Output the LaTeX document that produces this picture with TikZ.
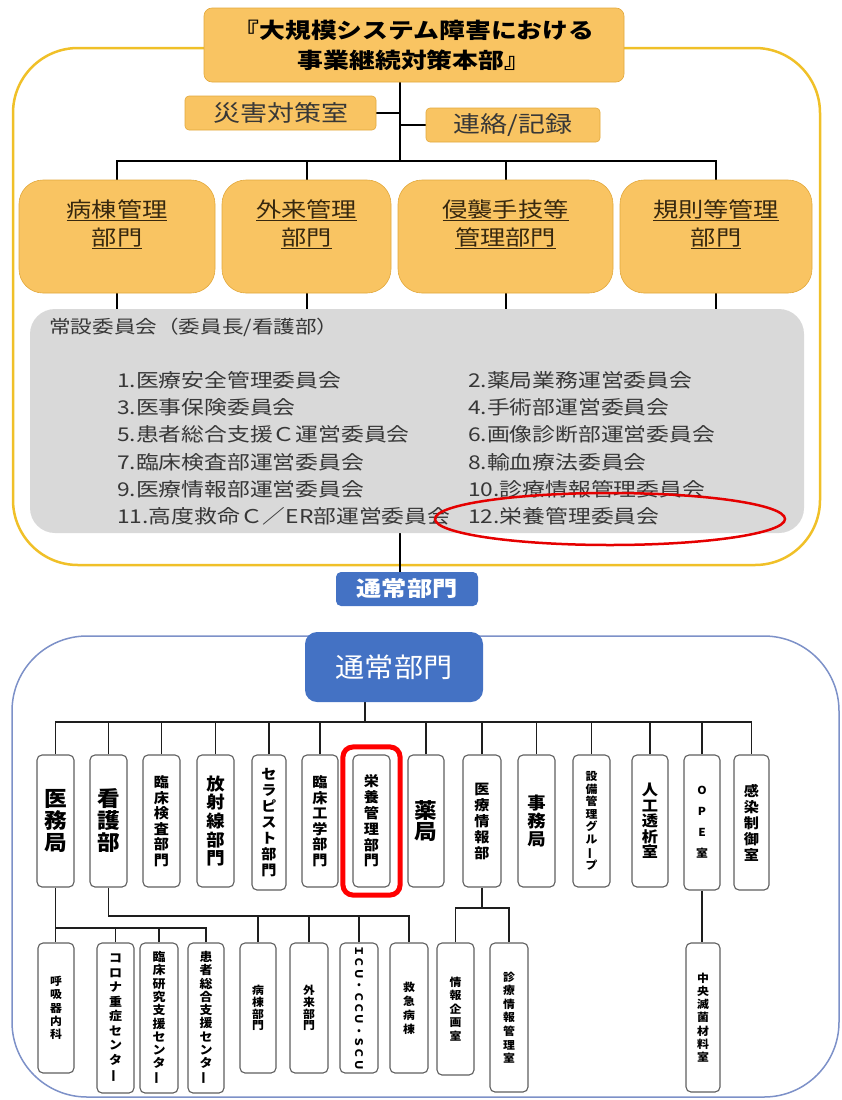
\documentclass[tikz,border=0pt]{standalone}
\usepackage{fontspec}
\usepackage{graphicx}
\setmainfont{Noto Sans CJK JP}
\newfontfamily\jpw{Noto Sans CJK JP}[FakeStretch=1.2]
\newfontfamily\jpl{Noto Sans CJK JP}[FakeStretch=1.08]
\usetikzlibrary{fit,backgrounds}
\definecolor{orfill}{RGB}{249,196,98}
\definecolor{ordraw}{RGB}{226,168,60}
\definecolor{yline}{RGB}{240,192,40}
\definecolor{bline}{RGB}{125,145,200}
\definecolor{offblue}{RGB}{68,114,196}
\definecolor{greyfill}{RGB}{217,217,217}
\definecolor{boxgray}{RGB}{95,95,95}
\definecolor{txtgray}{RGB}{55,55,55}
\definecolor{deptxt}{RGB}{55,40,15}
\definecolor{lline}{RGB}{30,30,30}
\newcommand{\fsz}[2]{\fontsize{#1}{#2}\selectfont}
\newcommand{\vbar}{\rotatebox[origin=c]{90}{ー}}
\newcommand{\vbx}[7]{\node[vbox, font=#6, minimum width={(#3-#2)*1pt}, minimum height={(#5-#4)*1pt}] (#1) at ({(#2+#3)/2},{(#4+#5)/2}) {#7};}
\begin{document}
\begin{tikzpicture}[x=1pt,y=-1pt,
  orbox/.style={fill=orfill, draw=ordraw, line width=0.6pt, inner sep=0pt, align=center},
  dept/.style={fill=orfill, draw=ordraw, line width=0.6pt, rounded corners=24pt},
  depttxt/.style={font=\jpw\fsz{21}{28}, align=center, text=deptxt, inner sep=0pt},
  cmt/.style={anchor=west, font=\jpw\fsz{19}{20}, text=txtgray, inner sep=0pt},
  bluebox/.style={fill=offblue, draw=none, text=white, inner sep=0pt},
  vbox/.style={draw=boxgray, line width=1.1pt, rounded corners=5pt, fill=white, inner sep=0pt, align=center, text=black},
  conn/.style={line width=2pt, draw=black},
  lconn/.style={line width=1.7pt, draw=lline}]
\useasboundingbox (0,0) rectangle (841,1100);

% ---------- upper section ----------
\node[orbox, minimum width=420pt, minimum height=74pt, rounded corners=8pt, font=\jpw\bfseries\fsz{21.5}{30}] (hdr) at (414,45) {『大規模システム障害における\\事業継続対策本部』};
\node[orbox, minimum width=191pt, minimum height=34pt, rounded corners=4pt, font=\jpw\fsz{22.5}{24}, text=txtgray] (saigai) at (280.5,113) {災害対策室};
\node[orbox, minimum width=174pt, minimum height=34pt, rounded corners=4pt, font=\jpw\fsz{22.5}{24}, text=txtgray] (renraku) at (513,125) {連絡/記録};

\node[dept, minimum width=196pt, minimum height=113pt] (b1) at (117,236.5) {};
\node[dept, minimum width=169pt, minimum height=113pt] (b2) at (306.5,236.5) {};
\node[dept, minimum width=215pt, minimum height=113pt] (b3) at (505.5,236.5) {};
\node[dept, minimum width=192pt, minimum height=113pt] (b4) at (716,236.5) {};
\node[depttxt] (b1t) at (117,224) {\underline{病棟管理}\\\underline{部門}};
\node[depttxt] (b2t) at (306.5,224) {\underline{外来管理}\\\underline{部門}};
\node[depttxt] (b3t) at (505.5,224) {\underline{侵襲手技等}\\\underline{管理部門}};
\node[depttxt] (b4t) at (716,224) {\underline{規則等管理}\\\underline{部門}};

\node[fill=greyfill, draw=none, rounded corners=25pt, minimum width=774pt, minimum height=224pt] (grey) at (417,421) {};
\node[anchor=west, font=\jpw\fsz{18}{20}, text=txtgray, inner sep=0pt] (greylbl) at (49,327) {常設委員会（委員長/看護部）};

\node[cmt] (c1) at (117,380) {1.医療安全管理委員会};
\node[cmt] (c3) at (117,407.3) {3.医事保険委員会};
\node[cmt] (c5) at (117,434.6) {5.患者総合支援Ｃ運営委員会};
\node[cmt] (c7) at (117,461.9) {7.臨床検査部運営委員会};
\node[cmt] (c9) at (117,489.2) {9.医療情報部運営委員会};
\node[cmt] (c11) at (117,516.5) {11.高度救命Ｃ／ER部運営委員会};
\node[cmt] (c2) at (468,380) {2.薬局業務運営委員会};
\node[cmt] (c4) at (468,407.3) {4.手術部運営委員会};
\node[cmt] (c6) at (468,434.6) {6.画像診断部運営委員会};
\node[cmt] (c8) at (468,461.9) {8.輸血療法委員会};
\node[cmt] (c10) at (468,489.2) {10.診療情報管理委員会};
\node[cmt] (c12) at (468,516.5) {12.栄養管理委員会};

\draw[red!90!black, line width=2.5pt] (610,519) ellipse [x radius=175, y radius=26];

\node[bluebox, minimum width=142pt, minimum height=34pt, rounded corners=5pt, font=\jpw\bfseries\fsz{21}{22}] (sblue) at (407,589) {通常部門};

% ---------- lower section ----------
\node[bluebox, minimum width=178pt, minimum height=70pt, rounded corners=12pt, font=\jpl\fsz{27}{28}] (nblue) at (394,667) {通常部門};

\vbx{imu}{37}{74}{755}{887}{\jpl\bfseries\fsz{21}{22}}{医\\務\\局}
\vbx{kango}{90}{127}{755}{887}{\jpl\bfseries\fsz{21}{22}}{看\\護\\部}
\vbx{rinken}{143}{180}{755}{887}{\jpl\bfseries\fsz{14}{15.5}}{臨\\床\\検\\査\\部\\門}
\vbx{hosha}{197}{234}{755}{887}{\jpl\bfseries\fsz{17}{18.6}}{放\\射\\線\\部\\門}
\vbx{thera}{252}{286}{755}{890}{\jpl\bfseries\fsz{14}{16}}{セ\\ラ\\ピ\\ス\\ト\\部\\門}
\vbx{rinko}{302}{338}{755}{887}{\jpl\bfseries\fsz{14}{15.5}}{臨\\床\\工\\学\\部\\門}
\vbx{eiyo}{353}{390}{755}{887}{\jpl\bfseries\fsz{14}{15.8}}{栄\\養\\管\\理\\部\\門}
\vbx{yaku}{408}{444}{755}{887}{\jpl\bfseries\fsz{21}{21}}{薬\\局}
\vbx{iryojoho}{463}{501}{755}{887}{\jpl\bfseries\fsz{14}{16}}{医\\療\\情\\報\\部}
\vbx{jimu}{518}{555}{755}{887}{\jpl\bfseries\fsz{17}{18}}{事\\務\\局}
\vbx{setsubi}{573}{610}{755}{887}{\jpl\bfseries\fsz{11}{12.6}}{設\\備\\管\\理\\グ\\ル\\\vbar\\プ}
\vbx{jinko}{632}{668}{755}{887}{\jpl\bfseries\fsz{15}{15.6}}{人\\工\\透\\析\\室}
\vbx{ope}{684}{720}{755}{890}{\jpl\bfseries\fsz{11}{21}}{O\\P\\E\\室}
\vbx{kansen}{734}{769}{755}{890}{\jpl\bfseries\fsz{14}{16}}{感\\染\\制\\御\\室}

\node[draw=red, line width=5pt, rounded corners=10pt, fit=(eiyo), inner xsep=9.5pt, inner ysep=7.5pt] (eiyoframe) {};

\vbx{kokyu}{38}{74}{943}{1073}{\jpl\bfseries\fsz{11}{13.4}}{呼\\吸\\器\\内\\科}
\vbx{corona}{97}{134}{943}{1093}{\jpl\bfseries\fsz{12}{14.5}}{コ\\ロ\\ナ\\重\\症\\セ\\ン\\タ\\\vbar}
\vbx{rinkenshien}{140}{178}{943}{1093}{\jpl\bfseries\fsz{12}{13.3}}{臨\\床\\研\\究\\支\\援\\セ\\ン\\タ\\\vbar}
\vbx{kanja}{188}{224}{943}{1093}{\jpl\bfseries\fsz{12}{13.3}}{患\\者\\総\\合\\支\\援\\セ\\ン\\タ\\\vbar}
\vbx{byoto}{240}{276}{943}{1073}{\jpl\bfseries\fsz{11}{11.8}}{病\\棟\\部\\門}
\vbx{gairai}{290}{328}{943}{1073}{\jpl\bfseries\fsz{11}{11.8}}{外\\来\\部\\門}
\vbx{icu}{340}{378}{943}{1073}{}{}
\node[rotate=-90, font=\jpl\bfseries\fsz{10.5}{11}, inner sep=0pt] (icut) at (icu.center) {ＩＣＵ・ＣＣＵ・ＳＣＵ};
\vbx{kyukyu}{390}{428}{943}{1073}{\jpl\bfseries\fsz{11}{14}}{救\\急\\病\\棟}
\vbx{johokikaku}{437}{474}{943}{1075}{\jpl\bfseries\fsz{11}{13.6}}{情\\報\\企\\画\\室}
\vbx{shinryo}{490}{528}{943}{1092}{\jpl\bfseries\fsz{11}{13.6}}{診\\療\\情\\報\\管\\理\\室}
\vbx{chuo}{686}{720}{943}{1092}{\jpl\bfseries\fsz{11}{13.2}}{中\\央\\滅\\菌\\材\\料\\室}

% ---------- frames and connectors (behind) ----------
\begin{scope}[on background layer]
\draw[yline, line width=2.5pt, rounded corners=65pt] (13,48) rectangle (820,565);
\draw[bline, line width=1.5pt, rounded corners=75pt] (12,636) rectangle (839,1097);

\coordinate (tbus) at (400,161);
\draw[conn] (hdr.south -| tbus) -- (tbus);
\draw[conn] (saigai.east) -- (saigai.east -| tbus);
\draw[conn] (renraku.west) -- (renraku.west -| tbus);
\draw[conn] (b1.north) |- (tbus) -| (b4.north);
\draw[conn] (b2.north) -- (b2.north |- tbus);
\draw[conn] (b3.north) -- (b3.north |- tbus);
\foreach \b in {b1,b2,b3,b4} \draw[conn] (\b.south) -- (\b.south |- grey.north);
\draw[conn] (tbus |- grey.south) -- (tbus |- sblue.north);

\coordinate (mbus) at (365,722);
\draw[lconn] (nblue.south -| mbus) -- (mbus);
\draw[lconn] (imu.north) |- (mbus) -| (kansen.north);
\foreach \n in {kango,rinken,hosha,thera,rinko,yaku,iryojoho,jimu,setsubi,jinko,ope}
  \draw[lconn] (\n.north) -- (\n.north |- mbus);

\coordinate (iy) at (0,928);
\draw[lconn] (imu.south) -- (imu.south |- kokyu.north);
\draw[lconn] (imu.south |- iy) -| (kanja.north);
\foreach \n in {corona,rinkenshien} \draw[lconn] (\n.north) -- (\n.north |- iy);

\coordinate (ky) at (0,916);
\draw[lconn] (kango.south) -- (kango.south |- ky) -| (kyukyu.north);
\foreach \n in {byoto,gairai,icu} \draw[lconn] (\n.north) -- (\n.north |- ky);

\coordinate (jy) at (0,908);
\draw[lconn] (iryojoho.south) -- (iryojoho.south |- jy);
\draw[lconn] (johokikaku.north) |- (shinryo.north |- jy) -- (shinryo.north);

\draw[lconn] (ope.south) -- (ope.south |- chuo.north);
\end{scope}
\end{tikzpicture}
\end{document}
